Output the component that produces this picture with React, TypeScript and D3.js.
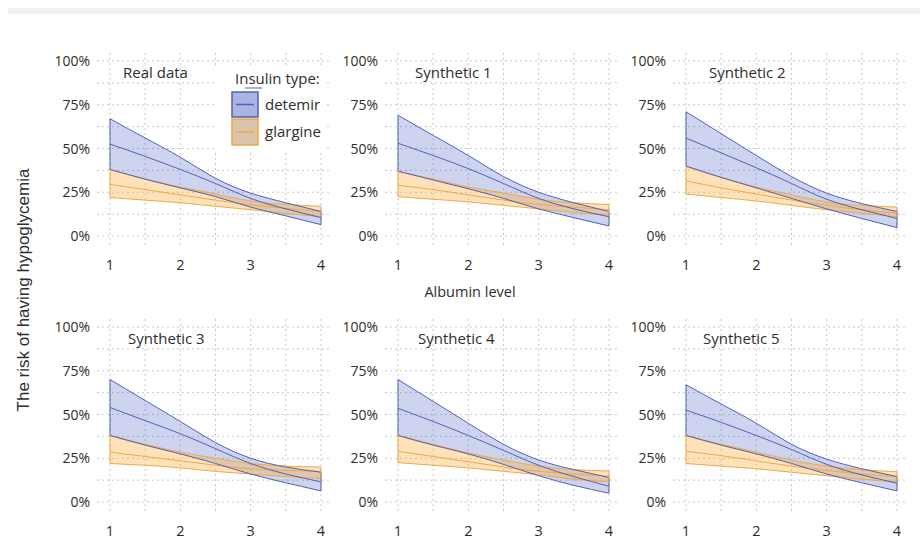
import React from "react";
import * as d3 from "d3";

// albumin level sample points (x)
const albumin = [1, 1.5, 2, 2.5, 3, 3.5, 4];
const panelTitles = ["Real data", "Synthetic 1", "Synthetic 2", "Synthetic 3", "Synthetic 4", "Synthetic 5"];
const xTicks = [1, 2, 3, 4];
const yTicks = [0, 0.25, 0.5, 0.75, 1];
const legendLabels = ["detemir", "glargine"];

// risk (%) per panel, read at the albumin points above
const detemirUpper = [
  [67, 56, 45, 33, 24.5, 19, 14],
  [69, 57.5, 46, 34, 25, 19, 14],
  [71, 58.5, 46, 34, 24.5, 18.5, 14],
  [70, 58, 46, 34, 25, 20, 17],
  [70, 57.5, 45, 33, 24, 18.5, 14],
  [67, 56, 45, 33, 24.5, 19, 14.5],
];
const detemirMean = [
  [52.5, 45.5, 38, 30, 21.5, 15.5, 10.5],
  [53, 46, 38.5, 30, 21.5, 15.5, 11],
  [56, 47.5, 39, 30, 21, 15, 10],
  [54, 46.5, 39, 30.5, 22, 16, 11.5],
  [53.5, 46, 38, 29.5, 21, 14.5, 9],
  [52.5, 45.5, 38, 30, 21.5, 15.5, 10.7],
];
const detemirLower = [
  [38, 32.5, 27.5, 22.5, 16.5, 11.5, 6.5],
  [37, 32, 27, 21.5, 15.5, 10.5, 5.7],
  [40, 33.5, 27.5, 21.5, 15.5, 10, 4.8],
  [38, 32.5, 27.5, 22, 16, 11, 6.3],
  [38, 32.5, 27.5, 21.5, 15, 9.5, 5],
  [38, 32.5, 27.5, 22, 16, 11, 6.3],
];
const glargineUpper = [
  [38, 32.5, 28, 24, 20, 18, 17],
  [37, 32.5, 28, 24.5, 21, 19, 18],
  [39.5, 33.5, 28, 23.5, 19.5, 17.5, 16.5],
  [38, 33, 28.5, 25, 22, 20.5, 20],
  [38, 33, 28, 24, 20.5, 18.5, 17.7],
  [38, 33, 28.5, 24, 20.5, 18.5, 17.3],
];
const glargineMean = [
  [29.5, 26.5, 23.5, 20.5, 17.8, 15.8, 14],
  [29, 26.5, 23.5, 20.5, 18, 16.5, 15],
  [31.5, 27.5, 24, 20.5, 17.5, 15, 13],
  [28.5, 26, 23.5, 21, 19, 18, 17.5],
  [29, 26, 23, 20, 17.5, 16, 14.7],
  [29, 26.5, 23.5, 20.5, 18, 16, 14.5],
];
const glargineLower = [
  [22, 20.5, 19, 17, 15, 13, 11],
  [22.5, 21, 19.5, 17.5, 15.5, 13.5, 12],
  [24, 22, 20, 17.5, 15, 13, 11],
  [22, 21, 19.5, 17.5, 16, 14.5, 13.5],
  [22.5, 21, 19.5, 17.5, 15.5, 13, 11.5],
  [22, 20.5, 19, 17, 15, 13, 11.5],
];

const FONT = "'Open Sans', 'Noto Sans', sans-serif";
const BLUE_LINE = "#5262b4";
const BLUE_FILL = "rgba(75,95,200,0.27)";
const ORANGE_LINE = "#eeaa48";
const ORANGE_FILL = "rgba(255,176,60,0.36)";
const TEXT = "#2e2e2e";

const colX = [110, 398, 686];
const rowY = [61, 327];
const plotW = 211;
const plotH = 175;
const titleDx = [13, 17, 23, 18, 20, 17];

const Panel: React.FC<{ i: number }> = ({ i }) => {
  const x0 = colX[i % 3];
  const y0 = rowY[Math.floor(i / 3)];
  const x = d3.scaleLinear().domain([1, 4]).range([x0, x0 + plotW]);
  const y = d3.scaleLinear().domain([0, 1]).range([y0 + plotH, y0]);

  const band = (lo: number[], hi: number[]) =>
    d3
      .area<number>()
      .x((d) => x(d))
      .y0((_, k) => y(lo[k] / 100))
      .y1((_, k) => y(hi[k] / 100))
      .curve(d3.curveNatural)(albumin) || "";
  const line = (v: number[]) =>
    d3
      .line<number>()
      .x((d) => x(d))
      .y((_, k) => y(v[k] / 100))
      .curve(d3.curveNatural)(albumin) || "";

  const hGrid = d3.range(0, 1.0001, 0.125);
  const vGrid = d3.range(1, 4.0001, 0.5);

  return (
    <g>
      {hGrid.map((g) => (
        <line key={"h" + g} x1={x(1) - 13} x2={x(4) + 10} y1={y(g)} y2={y(g)}
          stroke="#c8c8c8" strokeWidth={1} strokeDasharray="2,3" />
      ))}
      {vGrid.map((g) => (
        <line key={"v" + g} x1={x(g)} x2={x(g)} y1={y(1) - 8} y2={y(0) + 10}
          stroke="#c8c8c8" strokeWidth={1} strokeDasharray="2,3" />
      ))}
      {yTicks.map((t) => (
        <text key={"y" + t} x={x(1) - 20} y={y(t) + 5} textAnchor="end"
          fontSize={14} fill={TEXT} fontFamily={FONT}>
          {d3.format(".0%")(t)}
        </text>
      ))}
      {xTicks.map((t) => (
        <text key={"x" + t} x={x(t)} y={y(0) + 34} textAnchor="middle"
          fontSize={14.5} fill={TEXT} fontFamily={FONT}>
          {t}
        </text>
      ))}
      <path d={band(detemirLower[i], detemirUpper[i])} fill={BLUE_FILL} />
      <path d={band(glargineLower[i], glargineUpper[i])} fill={ORANGE_FILL} />
      {[glargineUpper[i], glargineMean[i], glargineLower[i]].map((v, k) => (
        <path key={"g" + k} d={line(v)} fill="none" stroke={ORANGE_LINE} strokeWidth={1} />
      ))}
      {[detemirUpper[i], detemirMean[i], detemirLower[i]].map((v, k) => (
        <path key={"d" + k} d={line(v)} fill="none" stroke={BLUE_LINE} strokeWidth={1} />
      ))}
      <line x1={x(1)} x2={x(1)} y1={y(detemirLower[i][0] / 100)} y2={y(detemirUpper[i][0] / 100)} stroke={BLUE_LINE} />
      <line x1={x(1)} x2={x(1)} y1={y(glargineLower[i][0] / 100)} y2={y(glargineUpper[i][0] / 100)} stroke={ORANGE_LINE} />
      <line x1={x(4)} x2={x(4)} y1={y(detemirLower[i][6] / 100)} y2={y(detemirUpper[i][6] / 100)} stroke={BLUE_LINE} />
      <line x1={x(4)} x2={x(4)} y1={y(glargineLower[i][6] / 100)} y2={y(glargineUpper[i][6] / 100)} stroke={ORANGE_LINE} />
      <text x={x(1) + titleDx[i]} y={y(1) + 17} fontSize={15} fill={TEXT} fontFamily={FONT}>
        {panelTitles[i]}
      </text>
    </g>
  );
};

const Legend: React.FC = () => (
  <g fontFamily={FONT} fontSize={15} fill={TEXT}>
    <rect x={215} y={68} width={110} height={82} fill="#fff" />
    <text x={235} y={84}>Insulin type:</text>
    <line x1={245} x2={262} y1={88} y2={88} stroke={BLUE_LINE} strokeWidth={1} />
    <rect x={232} y={92} width={26} height={25} fill="#aab4e2" stroke={BLUE_LINE} strokeWidth={1.5} />
    <line x1={236} x2={254} y1={104.5} y2={104.5} stroke={BLUE_LINE} strokeWidth={1.5} />
    <rect x={232} y={119} width={26} height={26} fill="#dcc3ab" stroke={ORANGE_LINE} strokeWidth={1.5} />
    <line x1={236} x2={254} y1={132} y2={132} stroke={ORANGE_LINE} strokeWidth={1.5} />
    <text x={265} y={110}>{legendLabels[0]}</text>
    <text x={265} y={137}>{legendLabels[1]}</text>
  </g>
);

const App: React.FC = () => (
  <svg width={920} height={547} style={{ position: "absolute", left: 0, top: 0, background: "#fff" }}>
    <rect x={8} y={8} width={912} height={6} fill="#f1f1f1" />
    {panelTitles.map((_, i) => (
      <Panel key={i} i={i} />
    ))}
    <Legend />
    <text x={470} y={297} textAnchor="middle" fontSize={14.5} fill={TEXT} fontFamily={FONT}>
      Albumin level
    </text>
    <text transform="translate(29,290) rotate(-90)" textAnchor="middle" fontSize={17}
      fill={TEXT} fontFamily="'Liberation Sans', Arial, sans-serif">
      The risk of having hypoglycemia
    </text>
  </svg>
);

export default App;
